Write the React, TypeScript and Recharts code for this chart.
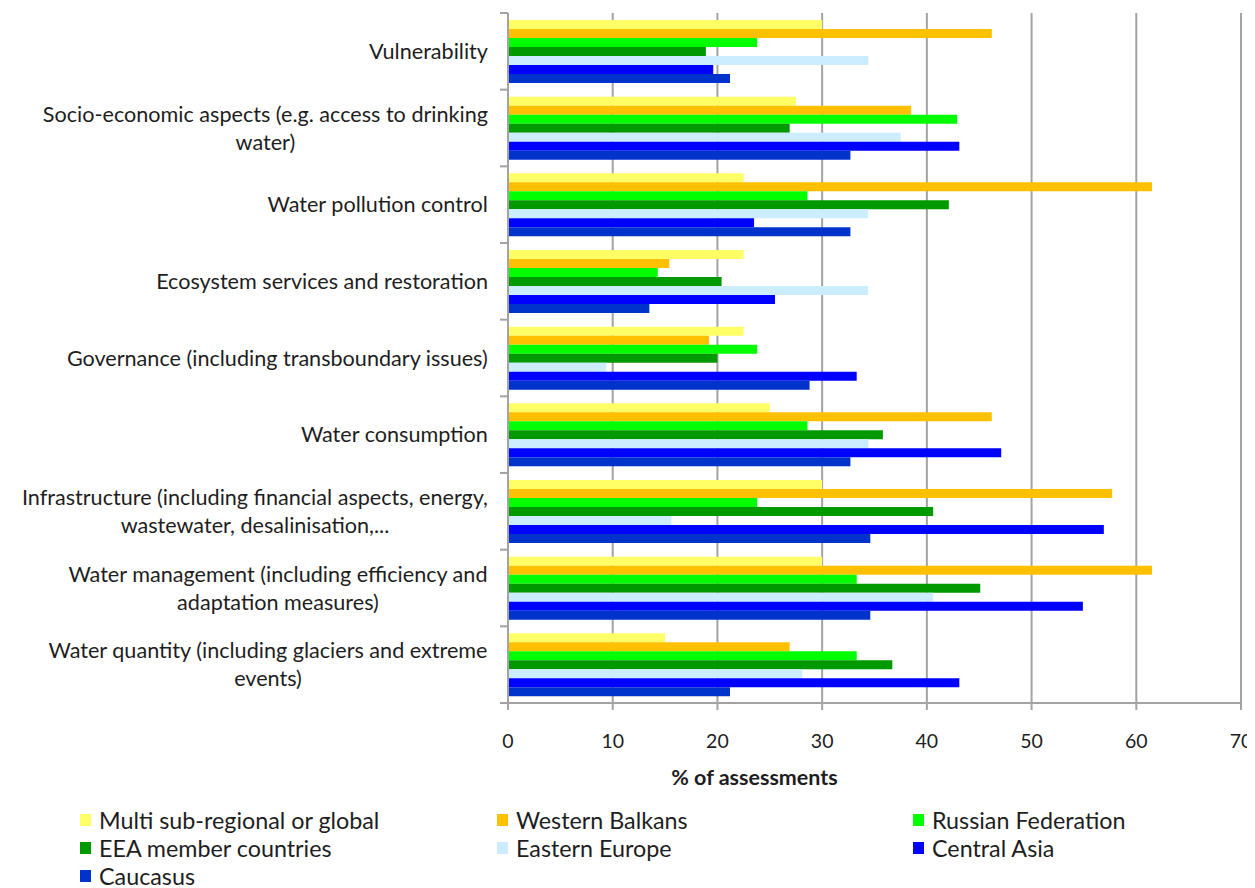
import React from "react";
import { BarChart, Bar, XAxis, YAxis, CartesianGrid, Legend } from "recharts";

const categories = [
  "Vulnerability",
  "Socio-economic aspects (e.g. access to drinking\nwater)",
  "Water pollution control",
  "Ecosystem services and restoration",
  "Governance (including transboundary issues)",
  "Water consumption",
  "Infrastructure (including financial aspects, energy,\nwastewater, desalinisation,...",
  "Water management (including efficiency and\nadaptation measures)",
  "Water quantity (including glaciers and extreme\nevents)",
];

const multiRegional = [30, 27.5, 22.5, 22.5, 22.5, 25, 30, 30, 15];
const westernBalkans = [46.2, 38.5, 61.5, 15.4, 19.2, 46.2, 57.7, 61.5, 26.9];
const russianFederation = [23.8, 42.9, 28.6, 14.3, 23.8, 28.6, 23.8, 33.3, 33.3];
const eeaMembers = [18.9, 26.9, 42.1, 20.4, 20.0, 35.8, 40.6, 45.1, 36.7];
const easternEurope = [34.4, 37.5, 34.4, 34.4, 9.4, 34.4, 15.6, 40.6, 28.1];
const centralAsia = [19.6, 43.1, 23.5, 25.5, 33.3, 47.1, 56.9, 54.9, 43.1];
const caucasus = [21.2, 32.7, 32.7, 13.5, 28.8, 32.7, 34.6, 34.6, 21.2];

const xTicks = [0, 10, 20, 30, 40, 50, 60, 70];

const series = [
  { key: "multi", name: "Multi sub-regional or global", color: "#FFFF66", values: multiRegional },
  { key: "balkans", name: "Western Balkans", color: "#FFC000", values: westernBalkans },
  { key: "russia", name: "Russian Federation", color: "#00FF00", values: russianFederation },
  { key: "eea", name: "EEA member countries", color: "#009900", values: eeaMembers },
  { key: "eastern", name: "Eastern Europe", color: "#CCECFF", values: easternEurope },
  { key: "central", name: "Central Asia", color: "#0000FF", values: centralAsia },
  { key: "caucasus", name: "Caucasus", color: "#0033CC", values: caucasus },
];

const data = categories.map((c, i) => {
  const row: any = { category: c };
  series.forEach((s) => (row[s.key] = s.values[i]));
  return row;
});

const FONT = "Lato, 'Noto Sans', sans-serif";
const FS_LABEL = 21.6;
const FS_TICK = 19.5;
const FS_TITLE = 21.5;
const FS_LEGEND = 23.3;
const TEXT = "#1e1e1e";
const GRID = "#a3a3a3";

const CHART_W = 1247;
const CHART_H = 880;
const MARGIN = { top: 5, right: 14, bottom: 0, left: 8 };
const LEGEND_H = 79;
const XAXIS_H = 106;
const PLOT_H = CHART_H - MARGIN.top - MARGIN.bottom - LEGEND_H - XAXIS_H;
const BAND = PLOT_H / categories.length;
const Y_MARGIN = 20;

let ctx: CanvasRenderingContext2D | null = null;
function measure(text: string): number {
  if (!ctx) {
    const c = document.createElement("canvas");
    ctx = c.getContext("2d");
  }
  if (!ctx) return text.length * FS_LABEL * 0.5;
  ctx.font = `${FS_LABEL}px ${FONT}`;
  return ctx.measureText(text).width;
}

const CategoryTick = (props: any) => {
  const { x, y, payload, index } = props;
  const lines = String(payload.value).split("\n");
  const maxW = Math.max(...lines.map(measure));
  const cx = x - maxW / 2;
  const lh = 28;
  const startY = y - ((lines.length - 1) * lh) / 2;
  const axisX = x + Y_MARGIN;
  return (
    <g>
      {lines.map((l, i) => (
        <text
          key={i}
          x={cx}
          y={startY + i * lh}
          dy="0.35em"
          textAnchor="middle"
          fill={TEXT}
          fontSize={FS_LABEL}
          fontFamily={FONT}
        >
          {l}
        </text>
      ))}
      <line x1={axisX - 8} x2={axisX} y1={y - BAND / 2} y2={y - BAND / 2} stroke={GRID} strokeWidth={2} />
      {index === categories.length - 1 && (
        <line x1={axisX - 8} x2={axisX} y1={y + BAND / 2} y2={y + BAND / 2} stroke={GRID} strokeWidth={2} />
      )}
    </g>
  );
};

const renderLegend = () => {
  const cols = [72, 489, 905];
  return (
    <div style={{ position: "relative", width: CHART_W, height: LEGEND_H, fontFamily: FONT, fontSize: FS_LEGEND, color: TEXT }}>
      {series.map((s, i) => {
        const col = i % 3;
        const row = Math.floor(i / 3);
        return (
          <div
            key={s.key}
            style={{
              position: "absolute",
              left: cols[col],
              top: row * 28 - 2,
              height: 26,
              display: "flex",
              alignItems: "center",
              whiteSpace: "nowrap",
              lineHeight: "26px",
            }}
          >
            <span style={{ display: "inline-block", width: 11, height: 12, background: s.color, marginRight: 8 }} />
            <span>{s.name}</span>
          </div>
        );
      })}
    </div>
  );
};

export default function App() {
  return (
    <div style={{ width: CHART_W, height: CHART_H, background: "#fff" }}>
      <style>{`html, body { overflow: hidden; }`}</style>
      <BarChart
        layout="vertical"
        width={CHART_W}
        height={CHART_H}
        data={data}
        margin={MARGIN}
        barCategoryGap={7}
        barGap={0}
      >
        <CartesianGrid horizontal={false} stroke={GRID} strokeWidth={2} />
        <XAxis
          type="number"
          domain={[0, 70]}
          ticks={xTicks}
          interval={0}
          height={XAXIS_H}
          stroke={GRID}
          strokeWidth={2}
          tickSize={7}
          tickMargin={24}
          tick={{ fill: TEXT, fontSize: FS_TICK, fontFamily: FONT }}
          label={{
            value: "% of assessments",
            position: "insideBottom",
            offset: 24,
            dx: -120,
            fill: TEXT,
            fontSize: FS_TITLE,
            fontFamily: FONT,
            fontWeight: "bold",
          }}
        />
        <YAxis
          type="category"
          dataKey="category"
          width={492}
          stroke={GRID}
          strokeWidth={2}
          tickLine={false}
          tickSize={0}
          tickMargin={Y_MARGIN}
          interval={0}
          tick={<CategoryTick />}
        />
        {series.map((s) => (
          <Bar key={s.key} dataKey={s.key} name={s.name} fill={s.color} isAnimationActive={false} />
        ))}
        <Legend verticalAlign="bottom" align="left" content={renderLegend} wrapperStyle={{ left: 0, width: CHART_W, height: LEGEND_H }} />
      </BarChart>
    </div>
  );
}
